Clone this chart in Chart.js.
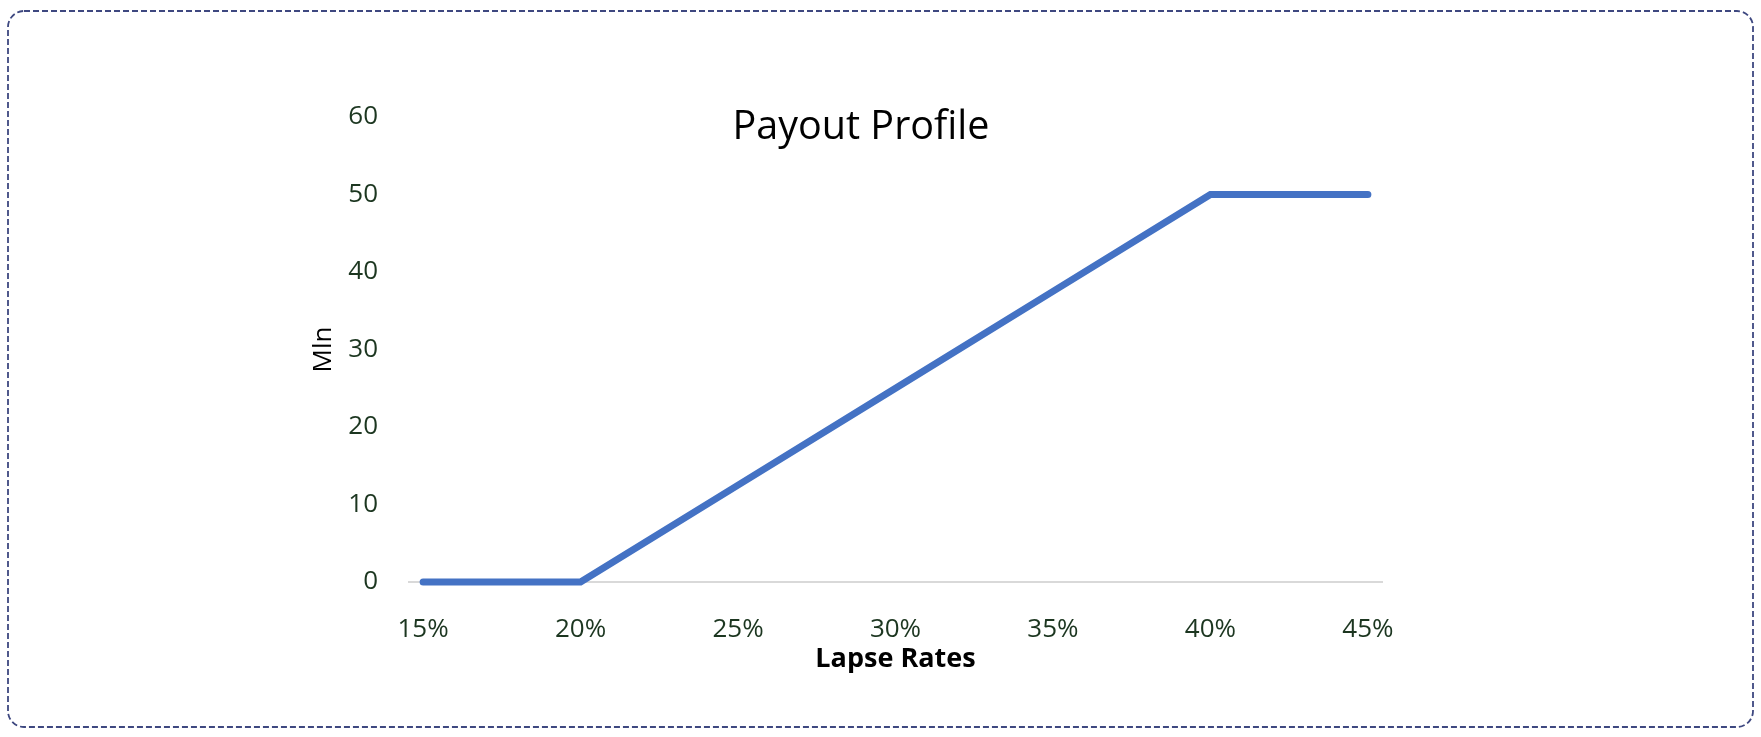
<!DOCTYPE html>
<html>
<head>
<meta charset="utf-8">
<script src="https://cdn.jsdelivr.net/npm/chart.js@4.4.1/dist/chart.umd.min.js"></script>
<style>
  html, body { margin: 0; padding: 0; background: #ffffff; }
  #wrap { position: relative; width: 1761px; height: 737px; }
  #marco { position: absolute; left: 0; top: 0; }
  #grafico { position: absolute; left: 0; top: 0; }
  #titulo {
    position: absolute; left: 661px; width: 400px; top: 97px;
    text-align: center; font-family: "Open Sans", sans-serif;
    font-size: 39.5px; color: #000000; line-height: 54px;
  }
</style>
</head>
<body>
<div id="wrap">
  <svg id="marco" width="1761" height="737">
    <rect x="8" y="11" width="1745" height="716" rx="16" ry="16"
          fill="none" stroke="#3e4880" stroke-width="1.8" stroke-dasharray="6 3"></rect>
  </svg>
  <canvas id="grafico" width="1761" height="737"></canvas>
  <div id="titulo">Payout Profile</div>
</div>
<script>
// datos
var tasasLapse = [15, 20, 25, 30, 35, 40, 45];
var pagoMln = [0, 0, 12.5, 25, 37.5, 50, 50];
var ticksX = [15, 20, 25, 30, 35, 40, 45];
var ticksY = [0, 10, 20, 30, 40, 50, 60];

var colorTicks = '#1c3620';

var puntos = tasasLapse.map(function (t, i) {
    return { x: t, y: pagoMln[i] };
});

var ctx = document.getElementById('grafico').getContext('2d');

var myChart = new Chart(ctx, {
    type: 'line',
    data: {
        datasets: [{
            label: 'Payout',
            data: puntos,
            borderColor: '#4472C4',
            borderWidth: 7,
            borderCapStyle: 'round',
            pointRadius: 0,
            tension: 0,
            fill: false,
            clip: 10
        }]
    },
    options: {
        responsive: false,
        animation: false,
        devicePixelRatio: 1,
        layout: {
            padding: { left: 308, right: 378, top: 117, bottom: 61 }
        },
        plugins: {
            legend: { display: false },
            title: { display: false },
            tooltip: { enabled: false }
        },
        scales: {
            x: {
                type: 'linear',
                min: 14.52,
                max: 45.48,
                afterBuildTicks: function (scale) {
                    scale.ticks = ticksX.map(function (v) { return { value: v }; });
                },
                afterFit: function (scale) { scale.height = 94; },
                grid: { display: false },
                border: { display: false },
                ticks: {
                    color: colorTicks,
                    padding: 24,
                    maxRotation: 0,
                    font: { family: 'Open Sans', size: 26 },
                    callback: function (v) { return v + '%'; }
                },
                title: {
                    display: true,
                    text: 'Lapse Rates',
                    color: '#000000',
                    padding: 0,
                    font: { family: 'Open Sans', size: 27, weight: 'bold' }
                }
            },
            y: {
                min: 0,
                max: 60,
                afterBuildTicks: function (scale) {
                    scale.ticks = ticksY.map(function (v) { return { value: v }; });
                },
                afterFit: function (scale) { scale.width = 100; },
                border: { display: false },
                grid: {
                    drawTicks: false,
                    lineWidth: 2,
                    color: function (c) {
                        return c.tick && c.tick.value === 0 ? '#d9d9d9' : 'rgba(0,0,0,0)';
                    }
                },
                ticks: {
                    color: colorTicks,
                    padding: 30,
                    font: { family: 'Open Sans', size: 26 }
                },
                title: {
                    display: true,
                    text: 'Mln',
                    color: '#000000',
                    padding: 0,
                    font: { family: 'Open Sans', size: 26 }
                }
            }
        }
    }
});
</script>
</body>
</html>
